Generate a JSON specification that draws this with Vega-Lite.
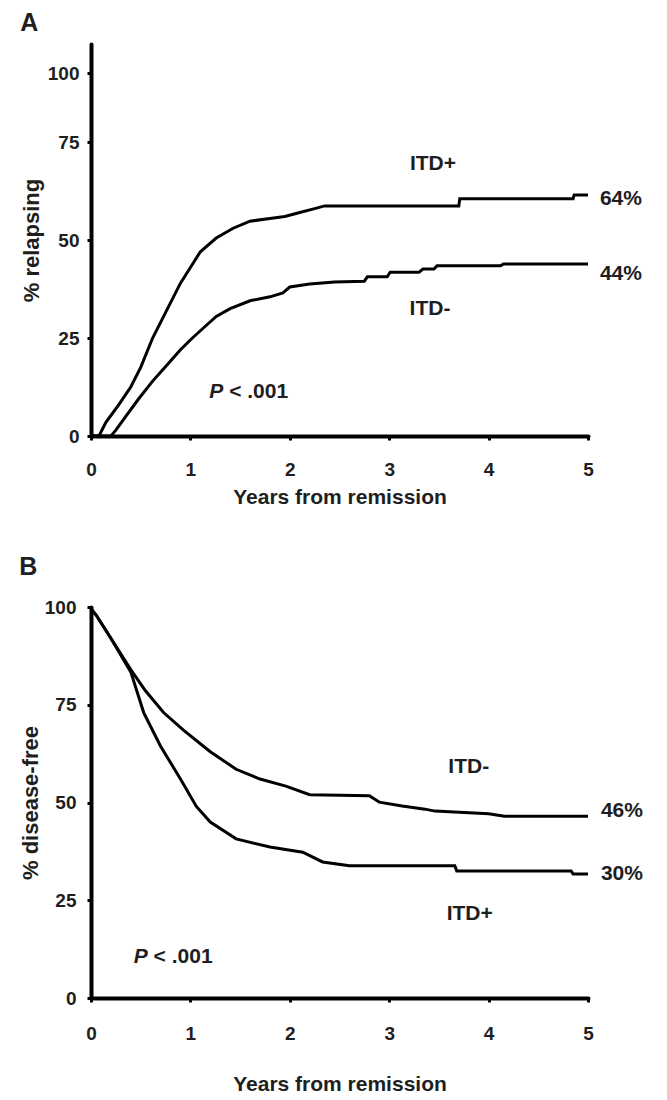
{
  "$schema": "https://vega.github.io/schema/vega-lite/v6.json",
  "background": "white",
  "padding": {"left": 19, "top": 11, "right": 0, "bottom": 0},
  "spacing": 48,
  "config": {
    "view": {"stroke": null},
    "font": "Liberation Sans",
    "axis": {
      "grid": false,
      "domainColor": "black",
      "domainWidth": 4,
      "domainCap": "round",
      "tickColor": "black",
      "tickWidth": 3,
      "tickSize": 4,
      "labelFont": "Liberation Sans",
      "labelFontWeight": "bold",
      "labelFontSize": 19,
      "labelColor": "#1e1e1e",
      "titleFont": "Liberation Sans",
      "titleFontWeight": "bold",
      "titleColor": "#1e1e1e",
      "labelFlush": false,
      "labelOverlap": false
    },
    "title": {"font": "Liberation Sans", "fontWeight": "bold", "fontSize": 25, "color": "#1e1e1e", "anchor": "start"},
    "text": {"font": "Liberation Sans", "fontWeight": "bold", "fontSize": 21, "color": "#1e1e1e", "baseline": "middle"}
  },
  "datasets": {
    "relapse": [
      {"group": "ITD+", "years": 0, "pct": 0},
      {"group": "ITD+", "years": 0.08, "pct": 0},
      {"group": "ITD+", "years": 0.15, "pct": 3.5},
      {"group": "ITD+", "years": 0.28, "pct": 8},
      {"group": "ITD+", "years": 0.4, "pct": 12.5},
      {"group": "ITD+", "years": 0.5, "pct": 17.5},
      {"group": "ITD+", "years": 0.62, "pct": 25},
      {"group": "ITD+", "years": 0.76, "pct": 32},
      {"group": "ITD+", "years": 0.9, "pct": 39},
      {"group": "ITD+", "years": 1.0, "pct": 43},
      {"group": "ITD+", "years": 1.1, "pct": 47},
      {"group": "ITD+", "years": 1.26, "pct": 50.5},
      {"group": "ITD+", "years": 1.43, "pct": 53},
      {"group": "ITD+", "years": 1.6, "pct": 54.8},
      {"group": "ITD+", "years": 1.8, "pct": 55.5},
      {"group": "ITD+", "years": 1.95, "pct": 56},
      {"group": "ITD+", "years": 2.1, "pct": 57},
      {"group": "ITD+", "years": 2.25, "pct": 58},
      {"group": "ITD+", "years": 2.35, "pct": 58.7},
      {"group": "ITD+", "years": 3.7, "pct": 58.7},
      {"group": "ITD+", "years": 3.71, "pct": 60.5},
      {"group": "ITD+", "years": 4.85, "pct": 60.5},
      {"group": "ITD+", "years": 4.86, "pct": 61.5},
      {"group": "ITD+", "years": 5.0, "pct": 61.5},
      {"group": "ITD-", "years": 0, "pct": 0},
      {"group": "ITD-", "years": 0.2, "pct": 0},
      {"group": "ITD-", "years": 0.25, "pct": 1.5},
      {"group": "ITD-", "years": 0.35, "pct": 5},
      {"group": "ITD-", "years": 0.48, "pct": 9.5},
      {"group": "ITD-", "years": 0.62, "pct": 14},
      {"group": "ITD-", "years": 0.76, "pct": 18},
      {"group": "ITD-", "years": 0.9, "pct": 22},
      {"group": "ITD-", "years": 1.02, "pct": 25},
      {"group": "ITD-", "years": 1.15, "pct": 28},
      {"group": "ITD-", "years": 1.26, "pct": 30.5},
      {"group": "ITD-", "years": 1.4, "pct": 32.5},
      {"group": "ITD-", "years": 1.6, "pct": 34.5},
      {"group": "ITD-", "years": 1.8, "pct": 35.5},
      {"group": "ITD-", "years": 1.93, "pct": 36.5},
      {"group": "ITD-", "years": 2.0, "pct": 38},
      {"group": "ITD-", "years": 2.2, "pct": 38.8},
      {"group": "ITD-", "years": 2.45, "pct": 39.3},
      {"group": "ITD-", "years": 2.75, "pct": 39.5},
      {"group": "ITD-", "years": 2.78, "pct": 40.6},
      {"group": "ITD-", "years": 2.98, "pct": 40.6},
      {"group": "ITD-", "years": 3.01, "pct": 41.8},
      {"group": "ITD-", "years": 3.3, "pct": 41.8},
      {"group": "ITD-", "years": 3.34, "pct": 42.6},
      {"group": "ITD-", "years": 3.45, "pct": 42.6},
      {"group": "ITD-", "years": 3.48, "pct": 43.4},
      {"group": "ITD-", "years": 4.12, "pct": 43.4},
      {"group": "ITD-", "years": 4.15, "pct": 43.9},
      {"group": "ITD-", "years": 5.0, "pct": 43.9}
    ],
    "diseasefree": [
      {"group": "ITD-", "years": 0, "pct": 99.5},
      {"group": "ITD-", "years": 0.05, "pct": 98},
      {"group": "ITD-", "years": 0.2, "pct": 92},
      {"group": "ITD-", "years": 0.4, "pct": 84},
      {"group": "ITD-", "years": 0.55, "pct": 78.5},
      {"group": "ITD-", "years": 0.73, "pct": 73},
      {"group": "ITD-", "years": 0.93, "pct": 68.5},
      {"group": "ITD-", "years": 1.2, "pct": 63},
      {"group": "ITD-", "years": 1.46, "pct": 58.5},
      {"group": "ITD-", "years": 1.7, "pct": 56},
      {"group": "ITD-", "years": 1.96, "pct": 54.2},
      {"group": "ITD-", "years": 2.2, "pct": 52},
      {"group": "ITD-", "years": 2.8, "pct": 51.7},
      {"group": "ITD-", "years": 2.9, "pct": 50.1},
      {"group": "ITD-", "years": 3.13, "pct": 49.1},
      {"group": "ITD-", "years": 3.36, "pct": 48.3},
      {"group": "ITD-", "years": 3.46, "pct": 47.8},
      {"group": "ITD-", "years": 4.0, "pct": 47.1},
      {"group": "ITD-", "years": 4.16, "pct": 46.5},
      {"group": "ITD-", "years": 5.0, "pct": 46.5},
      {"group": "ITD+", "years": 0, "pct": 99.5},
      {"group": "ITD+", "years": 0.05, "pct": 98},
      {"group": "ITD+", "years": 0.2, "pct": 92},
      {"group": "ITD+", "years": 0.4, "pct": 83.4},
      {"group": "ITD+", "years": 0.53, "pct": 73},
      {"group": "ITD+", "years": 0.7, "pct": 64.4},
      {"group": "ITD+", "years": 0.9, "pct": 56},
      {"group": "ITD+", "years": 1.06, "pct": 49},
      {"group": "ITD+", "years": 1.2, "pct": 45},
      {"group": "ITD+", "years": 1.46, "pct": 40.7},
      {"group": "ITD+", "years": 1.8, "pct": 38.6},
      {"group": "ITD+", "years": 2.13, "pct": 37.3},
      {"group": "ITD+", "years": 2.33, "pct": 34.8},
      {"group": "ITD+", "years": 2.6, "pct": 33.8},
      {"group": "ITD+", "years": 3.66, "pct": 33.8},
      {"group": "ITD+", "years": 3.68, "pct": 32.5},
      {"group": "ITD+", "years": 4.83, "pct": 32.5},
      {"group": "ITD+", "years": 4.85, "pct": 31.7},
      {"group": "ITD+", "years": 5.0, "pct": 31.7}
    ],
    "labelsA": [
      {"kind": "name", "label": "ITD+", "years": 3.44, "pct": 69.4},
      {"kind": "name", "label": "ITD-", "years": 3.41, "pct": 32.4},
      {"kind": "end", "label": "64%", "years": 5.12, "pct": 60.5},
      {"kind": "end", "label": "44%", "years": 5.12, "pct": 41.3},
      {"kind": "p", "label": "P", "years": 1.19, "pct": 11.2},
      {"kind": "end", "label": "< .001", "years": 1.39, "pct": 11.2}
    ],
    "labelsB": [
      {"kind": "name", "label": "ITD-", "years": 3.8, "pct": 59},
      {"kind": "name", "label": "ITD+", "years": 3.81, "pct": 21.5},
      {"kind": "end", "label": "46%", "years": 5.13, "pct": 47.8},
      {"kind": "end", "label": "30%", "years": 5.13, "pct": 31.7},
      {"kind": "p", "label": "P", "years": 0.43, "pct": 10.5},
      {"kind": "end", "label": "< .001", "years": 0.63, "pct": 10.5}
    ]
  },
  "vconcat": [
    {
      "width": 497,
      "height": 392,
      "title": {"text": "A", "offset": 8},
      "layer": [
        {
          "data": {"name": "relapse"},
          "mark": {"type": "line", "color": "black", "strokeWidth": 3},
          "encoding": {
            "x": {"field": "years", "type": "quantitative", "scale": {"domain": [0, 5], "nice": false},
                  "axis": {"values": [0, 1, 2, 3, 4, 5], "format": "d", "title": "Years from remission", "titleFontSize": 21, "labelPadding": 20, "titlePadding": 7}},
            "y": {"field": "pct", "type": "quantitative", "scale": {"domain": [0, 100], "nice": false},
                  "axis": {"values": [0, 25, 50, 75, 92.5], "labelExpr": "datum.value > 90 ? '100' : datum.label", "title": "% relapsing", "titleFontSize": 22, "labelPadding": 8, "titlePadding": 4}},
            "detail": {"field": "group"},
            "order": {"field": "years", "type": "quantitative"}
          }
        },
        {
          "data": {"name": "labelsA"},
          "transform": [{"filter": "datum.kind == 'name'"}],
          "mark": {"type": "text", "align": "center"},
          "encoding": {"x": {"field": "years", "type": "quantitative"}, "y": {"field": "pct", "type": "quantitative"}, "text": {"field": "label"}}
        },
        {
          "data": {"name": "labelsA"},
          "transform": [{"filter": "datum.kind == 'end'"}],
          "mark": {"type": "text", "align": "left"},
          "encoding": {"x": {"field": "years", "type": "quantitative"}, "y": {"field": "pct", "type": "quantitative"}, "text": {"field": "label"}}
        },
        {
          "data": {"name": "labelsA"},
          "transform": [{"filter": "datum.kind == 'p'"}],
          "mark": {"type": "text", "align": "left", "fontStyle": "italic"},
          "encoding": {"x": {"field": "years", "type": "quantitative"}, "y": {"field": "pct", "type": "quantitative"}, "text": {"field": "label"}}
        }
      ]
    },
    {
      "width": 497,
      "height": 391,
      "title": {"text": "B", "offset": 18},
      "layer": [
        {
          "data": {"name": "diseasefree"},
          "mark": {"type": "line", "color": "black", "strokeWidth": 3},
          "encoding": {
            "x": {"field": "years", "type": "quantitative", "scale": {"domain": [0, 5], "nice": false},
                  "axis": {"values": [0, 1, 2, 3, 4, 5], "format": "d", "title": "Years from remission", "titleFontSize": 21, "labelPadding": 22, "titlePadding": 30}},
            "y": {"field": "pct", "type": "quantitative", "scale": {"domain": [0, 100], "nice": false},
                  "axis": {"values": [0, 25, 50, 75, 100], "title": "% disease-free", "titleFontSize": 22, "labelPadding": 11, "titlePadding": 2}},
            "detail": {"field": "group"},
            "order": {"field": "years", "type": "quantitative"}
          }
        },
        {
          "data": {"name": "labelsB"},
          "transform": [{"filter": "datum.kind == 'name'"}],
          "mark": {"type": "text", "align": "center"},
          "encoding": {"x": {"field": "years", "type": "quantitative"}, "y": {"field": "pct", "type": "quantitative"}, "text": {"field": "label"}}
        },
        {
          "data": {"name": "labelsB"},
          "transform": [{"filter": "datum.kind == 'end'"}],
          "mark": {"type": "text", "align": "left"},
          "encoding": {"x": {"field": "years", "type": "quantitative"}, "y": {"field": "pct", "type": "quantitative"}, "text": {"field": "label"}}
        },
        {
          "data": {"name": "labelsB"},
          "transform": [{"filter": "datum.kind == 'p'"}],
          "mark": {"type": "text", "align": "left", "fontStyle": "italic"},
          "encoding": {"x": {"field": "years", "type": "quantitative"}, "y": {"field": "pct", "type": "quantitative"}, "text": {"field": "label"}}
        }
      ]
    }
  ]
}
